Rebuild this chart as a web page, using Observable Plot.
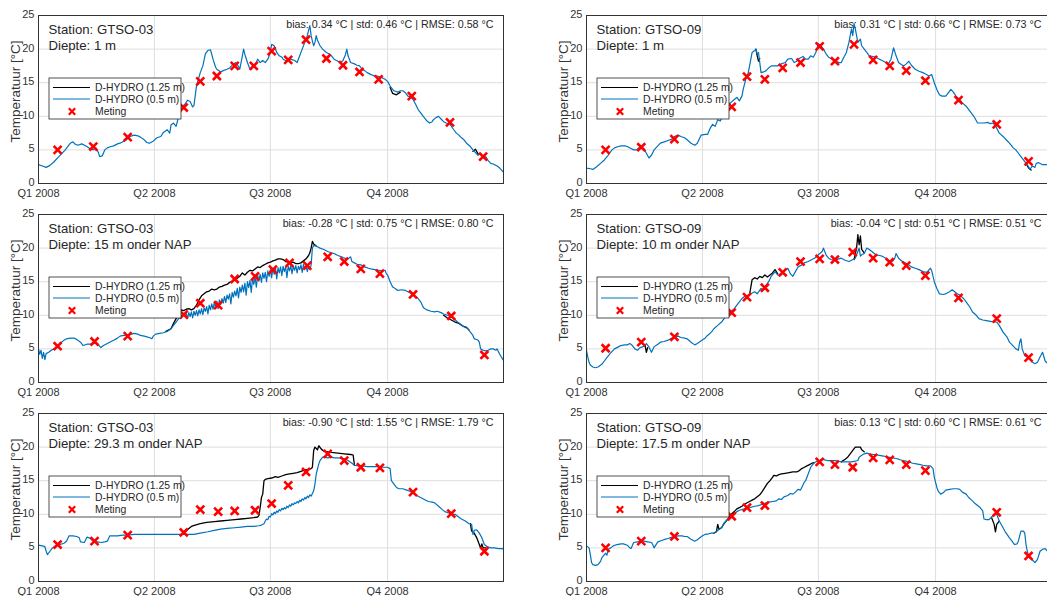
<!DOCTYPE html>
<html><head><meta charset="utf-8">
<script src="https://cdn.jsdelivr.net/npm/d3@7"></script>
<script src="https://cdn.jsdelivr.net/npm/@observablehq/plot@0.6"></script>
<style>
html,body{margin:0;padding:0;background:#fff;overflow:hidden;}
#wrap{position:relative;width:1047px;height:596px;overflow:hidden;background:#fff;}
.panel{position:absolute;width:520px;height:199px;}
.panel svg{max-width:none !important;display:block;}
</style></head><body><div id="wrap"></div>
<script>
// ---- axis ticks / labels ----
const quarterDays = [0, 91, 182, 274];
const quarterLabels = ["Q1 2008", "Q2 2008", "Q3 2008", "Q4 2008"];
const yTicks = [0, 5, 10, 15, 20, 25];
const seriesNames = ["D-HYDRO (1.25 m)", "D-HYDRO (0.5 m)", "Meting"];
const yLabel = "Temperatuur [°C]";

// ---- panel titles ----
const stations = ["GTSO-03", "GTSO-09", "GTSO-03", "GTSO-09", "GTSO-03", "GTSO-09"];
const depths = ["1 m", "1 m", "15 m onder NAP", "10 m onder NAP", "29.3 m onder NAP", "17.5 m onder NAP"];
const statsText = [
  "bias: 0.34 °C | std: 0.46 °C | RMSE: 0.58 °C",
  "bias: 0.31 °C | std: 0.66 °C | RMSE: 0.73 °C",
  "bias: -0.28 °C | std: 0.75 °C | RMSE: 0.80 °C",
  "bias: -0.04 °C | std: 0.51 °C | RMSE: 0.51 °C",
  "bias: -0.90 °C | std: 1.55 °C | RMSE: 1.79 °C",
  "bias: 0.13 °C | std: 0.60 °C | RMSE: 0.61 °C"
];

// ---- series: [day of 2008, °C] ----
// Panel 1: GTSO-03, 1 m
const blue1 = [[0,2.8],[3,2.6],[6,2.4],[9,2.7],[12,3.2],[16,4.0],[19,4.6],[21,5.0],[25,6.0],[27,6.2],[29,5.8],[31,5.7],[34,5.9],[38,5.5],[41,5.1],[43,5.0],[45,5.3],[47,4.6],[48,4.0],[50,4.1],[52,5.0],[54,5.3],[57,5.5],[59,5.6],[62,5.9],[64,6.0],[67,6.3],[69,6.5],[72,7.0],[75,7.2],[78,7.1],[80,6.9],[83,6.5],[85,6.1],[87,6.0],[90,6.3],[93,6.8],[96,7.0],[98,7.6],[101,8.0],[103,7.5],[104,8.7],[106,9.0],[108,8.5],[110,10.0],[111,10.5],[113,11.5],[115,11.8],[117,12.4],[119,12.2],[121,11.4],[122,11.6],[124,14.5],[127,16.5],[129,17.5],[131,19.3],[133,19.8],[135,19.9],[137,18.5],[139,17.3],[140,17.0],[143,16.6],[145,16.8],[148,17.0],[150,17.2],[153,17.8],[155,18.0],[157,17.4],[158,17.0],[160,19.0],[161,20.0],[162,19.2],[164,18.0],[166,17.0],[168,17.5],[170,17.6],[172,18.5],[174,18.0],[176,18.3],[178,18.0],[180,18.5],[182,19.5],[183,20.7],[185,20.5],[187,19.5],[189,19.0],[191,18.8],[192,18.5],[195,18.2],[198,18.5],[201,18.3],[203,18.0],[205,19.0],[207,20.0],[209,21.0],[211,22.0],[212,22.8],[213,23.5],[214,22.0],[215,21.2],[216,20.5],[217,21.0],[218,22.0],[219,21.3],[221,20.5],[223,20.0],[226,19.5],[229,19.2],[232,18.5],[235,18.2],[237,18.0],[239,18.3],[241,19.2],[242,20.0],[243,19.0],[245,18.0],[248,17.8],[250,17.6],[252,17.5],[254,17.0],[256,16.8],[258,16.5],[261,16.2],[264,16.0],[266,16.0],[269,15.8],[272,15.5],[274,15.2],[276,14.5],[278,14.0],[279,13.8],[282,13.6],[284,13.8],[286,13.8],[288,13.5],[290,13.0],[292,12.9],[294,12.5],[296,11.8],[298,11.0],[300,10.5],[302,10.0],[305,9.3],[307,9.0],[309,9.2],[310,9.5],[312,9.8],[314,10.0],[316,9.6],[318,9.2],[320,9.0],[323,8.8],[326,8.0],[328,7.5],[330,7.2],[332,6.8],[334,6.5],[336,6.0],[339,5.5],[341,5.0],[343,4.6],[345,4.2],[347,4.5],[349,3.8],[351,4.0],[353,3.4],[355,3.0],[357,2.9],[360,2.6],[362,2.3],[365,1.7]];
const black1 = [[[276,14.3],[278,13.4],[281,13.2],[284,13.6]],[[341,4.8],[343,5.1],[345,4.4],[347,4.3]]];
const meas1 = [[15,5.0],[43,5.5],[70,6.9],[114,11.3],[127,15.2],[140,16.0],[154,17.5],[169,17.5],[183,19.7],[196,18.4],[210,21.4],[226,18.6],[239,17.6],[252,16.6],[267,15.5],[293,13.0],[323,9.1],[349,4.0]];

// Panel 2: GTSO-09, 1 m
const blue2 = [[0,2.3],[3,2.2],[5,2.1],[8,2.5],[11,3.0],[14,3.5],[17,4.2],[18,4.5],[20,5.0],[22,5.3],[25,5.5],[27,5.6],[30,5.6],[32,5.5],[35,5.2],[37,5.0],[39,5.0],[41,5.3],[43,5.4],[45,5.2],[47,4.5],[49,3.8],[51,4.2],[53,5.0],[56,5.6],[58,6.0],[61,6.2],[64,6.4],[67,6.6],[69,7.0],[72,7.2],[74,7.0],[77,6.8],[79,6.5],[82,6.0],[85,5.7],[87,6.0],[90,7.2],[93,7.3],[95,7.3],[97,8.2],[99,8.8],[101,8.5],[103,9.5],[105,9.3],[107,10.0],[109,10.8],[111,11.5],[113,12.0],[116,12.5],[118,12.8],[120,12.3],[122,13.0],[123,14.0],[125,15.5],[127,16.5],[129,18.5],[130,19.5],[132,19.8],[133,20.0],[134,19.2],[135,19.5],[136,18.0],[137,16.5],[139,16.6],[141,16.8],[143,17.2],[145,17.5],[148,17.5],[150,17.5],[153,17.8],[156,18.0],[158,18.5],[161,18.6],[163,18.0],[165,18.2],[167,18.6],[170,18.9],[172,18.5],[174,18.5],[176,19.0],[178,18.8],[180,19.5],[182,20.8],[184,20.5],[186,20.0],[188,19.3],[190,18.8],[193,18.5],[195,18.3],[198,18.0],[200,18.0],[202,18.8],[204,19.5],[206,21.0],[207,22.0],[208,23.0],[209,22.0],[210,23.8],[211,23.0],[212,22.0],[213,21.0],[215,21.5],[216,20.5],[218,20.0],[220,19.5],[222,19.0],[225,18.9],[227,18.8],[230,18.5],[232,18.3],[235,18.0],[237,17.8],[239,18.5],[241,20.2],[243,19.0],[245,18.0],[247,17.7],[249,17.5],[251,17.8],[253,18.2],[255,17.6],[258,17.0],[261,16.7],[264,16.5],[266,16.3],[269,16.0],[271,16.2],[273,15.0],[275,14.0],[277,13.2],[279,13.0],[282,13.0],[284,13.5],[286,14.0],[288,13.6],[290,13.0],[293,12.5],[295,12.0],[298,11.5],[300,11.0],[302,10.5],[304,10.0],[307,9.0],[310,9.0],[312,9.0],[315,9.1],[317,8.9],[319,9.0],[321,8.6],[324,7.5],[327,7.0],[330,6.4],[332,6.0],[335,5.3],[337,5.0],[339,4.5],[341,4.0],[343,3.5],[345,3.0],[347,2.5],[348,2.1],[350,2.6],[352,2.4],[353,3.0],[355,3.1],[358,2.8],[361,2.8],[365,2.5]];
const black2 = [[[133,20.0],[134,19.0],[135,18.2],[136,18.6]],[[345,3.0],[347,2.3],[349,2.0]]];
const meas2 = [[15,5.0],[43,5.4],[69,6.6],[114,11.4],[126,15.9],[140,15.5],[154,17.2],[168,18.0],[183,20.4],[195,18.2],[210,20.7],[225,18.4],[238,17.5],[251,16.8],[266,15.3],[292,12.4],[322,8.8],[347,3.3]];

// Panel 3: GTSO-03, 15 m onder NAP
const blue3 = [[0,5.0],[1,4.2],[2,4.8],[3,3.6],[4,4.5],[5,3.4],[6,4.3],[8,4.5],[10,4.8],[12,5.0],[15,5.4],[17,5.8],[20,6.3],[22,6.5],[25,6.6],[28,6.6],[30,6.4],[33,6.0],[35,5.5],[38,5.7],[41,5.7],[44,5.8],[46,5.8],[49,5.2],[51,5.5],[54,5.8],[57,6.1],[59,6.3],[62,6.6],[64,6.9],[67,7.0],[70,7.0],[73,7.2],[75,7.3],[78,7.2],[80,7.0],[83,6.9],[85,6.8],[87,6.7],[89,6.5],[90,6.9],[92,7.2],[95,7.3],[98,7.4],[101,7.6],[104,8.0],[106,8.5],[108,9.0],[110,9.5],[112,10.0],[114,10.1],
[116,10.3],[117,9.5],[118,10.4],[119,9.8],[120,10.5],[121,9.6],[122,10.6],[123,10.0],[124,10.7],[125,9.9],[126,10.8],[127,10.2],[128,11.0],[129,10.1],[130,11.1],[131,10.6],[132,11.3],[133,10.2],[134,11.5],[135,10.8],[136,11.7],[137,10.9],[138,11.9],[139,11.2],[140,12.1],[141,11.0],[142,12.3],[143,11.6],[144,12.5],[145,11.8],[146,12.8],[147,11.9],[148,13.0],[149,12.4],[150,13.2],[151,11.7],[152,13.4],[153,12.7],[154,13.6],[155,12.9],[156,14.0],[157,12.6],[158,14.2],[159,13.4],[160,14.5],[161,13.5],[162,14.8],[163,13.0],[164,15.0],[165,14.1],[166,15.2],[167,13.4],[168,15.5],[169,14.6],[170,15.7],[171,14.2],[172,16.0],[173,15.1],[174,16.1],[175,14.9],[176,16.3],[177,15.5],[178,16.4],[179,15.0],[180,16.6],[181,15.8],[182,16.8],[183,15.6],[184,17.0],[185,16.1],[186,17.1],[187,15.4],[188,17.1],[189,16.3],[190,17.2],[191,15.9],[192,17.3],[193,16.5],[194,17.2],[195,15.6],[196,17.3],[197,16.6],[198,17.4],[199,16.2],[200,17.3],[201,16.7],[202,17.4],[203,16.3],[204,17.3],[205,16.8],[206,17.5],[207,16.4],[208,17.6],[209,16.9],[210,17.4],[211,16.5],[212,17.3],[213,16.8],[214,17.5],
[215,20.0],[216,20.4],[218,20.3],[219,20.2],[221,20.0],[224,19.8],[227,19.5],[230,19.3],[232,19.2],[235,18.9],[238,18.7],[240,18.5],[243,18.4],[245,18.7],[246,18.0],[248,17.8],[250,17.6],[253,17.5],[256,17.2],[259,17.0],[261,16.9],[264,16.8],[267,16.7],[270,16.6],[272,16.7],[273,16.2],[274,16.0],[276,15.0],[278,14.2],[280,14.0],[282,13.7],[285,13.8],[288,13.7],[290,13.5],[293,13.2],[296,12.8],[298,12.5],[300,12.0],[302,11.2],[303,11.0],[305,10.8],[308,10.6],[311,10.5],[313,10.6],[316,10.4],[318,10.2],[321,10.0],[324,9.8],[326,9.5],[329,9.0],[331,8.7],[334,8.3],[337,8.0],[339,7.5],[341,7.0],[342,6.5],[344,6.4],[345,6.3],[346,6.0],[347,5.0],[349,4.8],[351,4.7],[353,4.8],[355,5.0],[357,5.0],[359,4.8],[360,5.0],[362,4.2],[364,3.6],[366,3.0]];
const black3 = [[[100,7.6],[104,8.0],[106,8.8],[108,9.5],[110,10.2],[112,10.8],[114,10.7],[116,10.9],[118,11.0],[120,10.8],[122,11.0],[124,11.5],[126,12.3],[128,12.9],[130,13.2],[132,13.5],[134,13.6],[136,13.9],[138,13.8],[140,13.9],[142,14.2],[144,14.3],[146,14.5],[148,14.6],[150,14.9],[152,15.0],[154,15.3],[156,15.5],[158,15.8],[160,16.3],[162,16.0],[164,16.4],[166,16.7],[168,16.6],[170,16.9],[172,17.2],[174,17.1],[176,17.4],[178,17.6],[180,17.8],[182,17.9],[184,18.1],[186,18.2],[188,18.4],[190,18.4],[192,18.3],[194,18.0],[196,17.9],[198,17.8],[200,17.9],[202,17.7],[204,17.7],[206,17.8],[208,18.1],[210,18.4],[212,18.9],[213,19.3],[214,20.0],[215,21.0],[216,20.6],[218,20.3]],[[318,10.0],[321,9.6],[324,9.3],[327,9.0],[330,8.8],[333,8.4],[336,8.2],[338,7.8]]];
const meas3 = [[15,5.4],[44,6.1],[70,6.9],[114,10.1],[127,11.8],[141,11.5],[154,15.4],[170,15.8],[184,16.8],[197,17.8],[211,17.4],[227,18.7],[240,18.0],[253,16.9],[268,16.2],[294,13.1],[324,9.9],[350,4.1]];

// Panel 4: GTSO-09, 10 m onder NAP
const blue4 = [[0,4.8],[1,3.8],[2,3.0],[3,2.6],[5,2.3],[7,2.2],[9,2.3],[12,2.7],[14,3.2],[16,3.7],[19,4.4],[22,5.0],[25,5.3],[27,5.5],[30,5.6],[32,5.6],[34,5.8],[36,5.5],[38,5.0],[40,4.8],[42,5.2],[44,5.3],[46,5.5],[47,5.8],[49,5.3],[51,4.5],[53,5.3],[56,5.7],[58,6.0],[61,6.1],[64,6.3],[67,6.6],[69,6.8],[72,6.9],[74,6.7],[77,6.6],[79,6.5],[82,6.0],[85,5.6],[87,5.8],[90,6.2],[93,6.6],[95,7.0],[98,7.5],[100,8.0],[103,8.5],[106,9.0],[108,9.5],[111,10.0],[113,10.5],[116,11.0],[118,11.5],[120,12.0],[122,12.5],[124,12.8],[127,13.0],[129,13.2],[132,13.5],[134,13.2],[137,14.0],[139,13.8],[141,14.5],[143,15.0],[145,15.8],[148,16.5],[150,16.0],[153,16.0],[155,16.6],[158,17.0],[160,16.2],[162,15.8],[164,16.5],[166,17.2],[169,17.5],[171,17.8],[174,18.0],[177,18.3],[179,18.5],[182,19.0],[185,19.5],[186,20.0],[188,19.0],[190,18.5],[192,18.3],[195,18.2],[198,18.4],[200,18.5],[203,18.2],[206,18.0],[208,18.2],[211,18.5],[212,19.0],[213,19.5],[214,20.0],[215,18.8],[216,19.0],[218,19.2],[220,20.0],[222,19.8],[224,19.5],[227,19.0],[230,18.9],[232,18.8],[235,18.5],[237,18.2],[240,18.0],[242,18.5],[243,19.2],[245,18.5],[248,18.0],[250,17.8],[253,17.5],[255,17.2],[258,17.0],[261,16.8],[264,16.5],[267,16.4],[270,17.0],[271,16.6],[273,15.0],[275,14.0],[277,13.2],[280,13.1],[282,13.2],[285,13.5],[287,13.8],[289,13.5],[291,13.2],[293,13.0],[296,12.5],[298,12.0],[301,11.2],[303,10.5],[306,10.0],[308,9.5],[311,9.3],[314,9.2],[317,9.1],[320,9.0],[322,9.0],[324,8.5],[327,7.5],[330,6.8],[332,6.0],[335,5.4],[337,5.0],[339,4.8],[340,6.0],[341,6.5],[342,5.0],[344,4.0],[346,3.8],[348,3.5],[350,3.0],[352,2.8],[354,3.0],[356,3.8],[358,4.5],[360,3.2],[362,2.8],[365,2.5]];
const black4 = [[[46,5.5],[47,4.5],[48,5.2]],[[128,13.1],[130,15.3],[132,15.6],[134,15.4],[136,15.8],[138,15.6],[140,16.0],[142,15.7],[144,16.0],[146,16.3],[148,16.8],[150,16.2]],[[210,18.3],[212,20.0],[213,22.0],[214,20.5],[215,21.8],[216,19.8],[218,19.3]]];
const meas4 = [[15,5.1],[43,6.0],[69,6.8],[114,10.4],[126,12.7],[140,14.1],[154,16.4],[168,18.0],[183,18.4],[195,18.3],[209,19.4],[225,18.5],[238,17.9],[251,17.4],[266,15.9],[292,12.6],[322,9.5],[347,3.7]];

// Panel 5: GTSO-03, 29.3 m onder NAP
const blue5 = [[0,5.4],[3,5.3],[5,5.2],[6,4.5],[7,4.0],[9,4.5],[11,5.0],[14,5.4],[17,5.5],[20,5.7],[22,6.0],[24,6.8],[27,6.8],[30,6.7],[32,6.5],[33,5.9],[36,5.8],[38,6.6],[40,6.5],[43,6.0],[46,5.9],[49,5.8],[52,5.9],[54,6.0],[56,6.8],[59,6.8],[62,6.8],[66,6.9],[70,6.9],[75,7.0],[80,7.0],[85,7.0],[91,7.0],[96,7.0],[101,7.0],[106,7.0],[112,7.0],[117,7.0],[122,7.0],[127,7.2],[133,7.4],[138,7.6],[143,7.8],[148,7.9],[154,8.0],[159,8.1],[164,8.2],[169,8.2],[173,8.3],[175,8.4],[177,8.6],
[178,9.0],[179,9.3],[180,9.2],[181,9.7],[182,9.6],[183,10.1],[184,9.9],[185,10.3],[186,10.1],[187,10.5],[188,10.3],[189,10.7],[190,10.5],[191,10.9],[192,10.7],[193,11.0],[194,10.8],[195,11.2],[196,11.0],[197,11.4],[198,11.2],[199,11.6],[200,11.4],[201,11.7],[202,11.6],[203,11.9],[204,11.7],[205,12.1],[206,11.9],[207,12.3],[208,12.1],[209,12.5],[210,12.3],[211,12.7],[212,12.5],[213,12.9],[214,12.7],
[216,13.5],[217,14.5],[218,16.0],[220,17.5],[221,18.0],[223,18.5],[225,18.5],[227,18.4],[230,18.5],[232,18.4],[235,18.4],[238,18.3],[240,18.3],[243,18.0],[246,17.6],[248,17.3],[251,17.2],[254,17.2],[258,17.1],[262,17.1],[266,17.1],[270,17.0],[274,17.0],[276,16.8],[277,15.0],[279,14.5],[281,14.0],[283,13.8],[286,13.8],[289,13.6],[292,13.4],[295,13.0],[298,12.7],[301,12.4],[304,12.1],[306,11.9],[309,11.8],[311,11.7],[314,11.2],[317,10.7],[319,10.4],[322,10.2],[324,10.0],[327,10.0],[329,9.7],[332,9.3],[335,9.0],[338,8.6],[340,8.5],[341,7.0],[342,7.6],[344,7.7],[346,7.2],[348,6.5],[349,6.0],[350,5.5],[352,5.2],[355,5.0],[358,5.0],[361,4.9],[364,4.9],[365,4.8],[366,3.0]];
const black5 = [[[112,7.0],[114,7.1],[116,7.5],[118,7.9],[120,8.2],[123,8.4],[127,8.6],[132,8.8],[138,8.9],[143,9.0],[148,9.1],[154,9.2],[159,9.3],[164,9.4],[169,9.5],[172,9.6],[173,9.8],[174,11.0],[175,12.5],[176,13.0],[177,15.0],[178,15.2],[180,15.3],[183,15.4],[186,15.6],[188,15.5],[191,15.7],[194,15.9],[197,16.0],[200,16.1],[203,16.2],[206,16.4],[209,16.6],[212,16.7],[214,16.8],[215,17.0],[216,19.5],[217,20.0],[219,19.6],[220,20.2],[222,19.7],[224,19.4],[227,19.3],[230,19.2],[235,19.1],[240,19.0],[245,18.9],[247,18.8],[248,17.3]],[[339,8.6],[340,7.5],[342,7.2],[344,6.5],[346,5.5],[347,5.0],[348,5.6],[349,5.0],[351,5.0]]];
const meas5 = [[15,5.5],[44,6.0],[70,6.9],[114,7.3],[127,10.7],[141,10.4],[154,10.5],[170,10.6],[183,11.6],[196,14.3],[210,16.3],[227,19.0],[240,18.0],[253,17.0],[268,16.9],[294,13.3],[324,10.1],[350,4.5]];

// Panel 6: GTSO-09, 17.5 m onder NAP
const blue6 = [[0,5.3],[2,5.0],[3,4.0],[4,2.8],[5,2.5],[7,2.4],[9,2.5],[11,3.0],[12,3.5],[14,4.0],[15,4.2],[16,3.9],[17,4.8],[19,5.0],[21,5.3],[24,5.5],[27,5.6],[29,5.6],[32,5.4],[34,5.0],[35,4.9],[37,5.8],[40,5.9],[43,6.0],[45,6.0],[48,5.9],[51,5.8],[52,5.5],[53,5.0],[55,5.6],[56,5.9],[59,6.1],[62,6.3],[64,6.4],[67,6.6],[70,6.7],[72,6.8],[75,6.8],[77,6.7],[79,6.7],[82,6.3],[85,6.0],[87,6.2],[89,6.5],[91,6.8],[93,7.0],[96,7.1],[98,7.2],[100,7.2],[103,7.6],[106,8.0],[108,8.7],[111,9.3],[113,9.7],[116,10.0],[118,10.4],[120,10.6],[122,10.7],[125,10.9],[128,11.0],[132,11.2],[135,11.3],[138,11.5],[141,11.7],[143,11.8],[146,11.9],[149,12.0],[151,12.3],[153,12.2],[155,12.6],[158,12.8],[160,13.1],[162,13.0],[164,13.3],[166,13.7],[168,13.6],[169,14.0],[171,14.8],[172,15.0],[174,16.0],[176,17.0],[178,17.5],[179,17.7],[181,17.9],[183,18.0],[185,18.2],[187,18.1],[189,18.0],[192,18.0],[195,18.0],[198,17.9],[200,17.8],[203,17.8],[206,17.8],[208,17.8],[211,17.9],[213,18.0],[214,18.5],[216,18.8],[218,19.0],[220,19.1],[222,19.0],[225,18.9],[227,18.9],[229,18.8],[232,18.7],[235,18.6],[237,18.5],[240,18.4],[243,18.3],[245,18.2],[248,18.0],[251,17.9],[253,17.8],[256,17.6],[259,17.5],[262,17.4],[264,17.3],[267,17.2],[270,17.2],[272,16.8],[273,15.5],[275,14.0],[276,13.5],[278,13.0],[280,13.2],[282,13.6],[285,13.7],[288,13.8],[291,13.8],[293,13.7],[295,13.3],[298,13.0],[300,12.5],[303,12.0],[305,11.6],[307,11.3],[309,11.0],[311,10.5],[312,9.3],[314,9.2],[316,9.2],[318,9.6],[320,10.0],[322,10.0],[324,9.0],[327,8.0],[329,7.3],[332,6.5],[334,6.0],[336,5.5],[338,5.6],[339,6.0],[340,6.8],[341,7.5],[343,7.5],[344,7.2],[345,5.5],[346,4.5],[347,3.8],[348,3.5],[350,3.2],[352,2.8],[354,3.3],[356,4.5],[358,4.8],[360,4.9],[362,4.5],[365,4.0]];
const black6 = [[[100,7.2],[102,7.4],[103,8.5],[104,7.8],[106,8.0],[108,8.6],[111,9.3],[113,9.9],[116,10.4],[118,10.8],[120,11.0],[122,11.2],[125,11.6],[128,11.9],[130,12.1],[132,12.3],[134,12.6],[136,12.9],[138,13.4],[140,14.0],[142,14.6],[144,15.0],[146,15.5],[147,15.8],[149,15.7],[151,15.9],[153,16.0],[156,16.1],[159,16.2],[162,16.3],[165,16.3],[167,16.5],[169,16.8],[171,17.0],[173,17.2],[175,17.4],[177,17.6],[179,17.7]],[[200,17.8],[203,18.2],[205,18.5],[207,19.0],[209,19.5],[211,20.0],[213,20.0],[215,20.0],[216,19.6],[218,19.3]],[[318,9.5],[320,8.5],[321,7.4],[322,8.5],[324,9.0]]];
const meas6 = [[15,5.0],[43,6.0],[69,6.7],[114,9.7],[126,11.0],[140,11.3],[183,17.8],[195,17.4],[209,17.0],[225,18.4],[238,18.1],[251,17.4],[266,16.5],[322,10.3],[347,3.8]];

const blues = [blue1, blue2, blue3, blue4, blue5, blue6];
const blacks = [black1, black2, black3, black4, black5, black6];
const metingen = [meas1, meas2, meas3, meas4, meas5, meas6];

// ---- rendering ----
const dayToDate = d => new Date(Date.UTC(2008, 0, 1) + d * 864e5);
const tickDates = quarterDays.map(dayToDate);
const tickLabelOf = new Map(tickDates.map((d, i) => [+d, quarterLabels[i]]));
const FONT = "'Liberation Sans', Arial, Helvetica, sans-serif";
const BLUE = "#0072BD";

function legendMark(index, scales, values, dims) {
  const g = d3.create("svg:g").attr("font-family", FONT).attr("font-size", 10.4)
    .attr("fill", "#262626").attr("text-anchor", "start");
  const x0 = dims.marginLeft + 11, y0 = dims.marginTop + 63;
  g.append("rect").attr("x", x0).attr("y", y0).attr("width", 132).attr("height", 41)
    .attr("fill", "white").attr("stroke", "#262626").attr("stroke-width", 0.8);
  const rows = [9.5, 21, 33.5];
  const colors = ["#000", BLUE];
  rows.forEach((ry, i) => {
    const y = y0 + ry;
    if (i < 2) {
      g.append("line").attr("x1", x0 + 4).attr("x2", x0 + 41).attr("y1", y).attr("y2", y)
        .attr("stroke", colors[i]).attr("stroke-width", 1);
    } else {
      const cx = x0 + 23, s = 3.2;
      g.append("path").attr("d", `M${cx - s},${y - s}L${cx + s},${y + s}M${cx - s},${y + s}L${cx + s},${y - s}`)
        .attr("stroke", "#ff0000").attr("stroke-width", 2.2).attr("fill", "none");
    }
    g.append("text").attr("x", x0 + 46).attr("y", y).attr("dy", "0.35em").attr("text-anchor", "start").text(seriesNames[i]);
  });
  return g.node();
}

function chart(i) {
  return Plot.plot({
    width: 520, height: 199,
    marginTop: 15, marginBottom: 16, marginLeft: 38, marginRight: 17,
    style: {fontFamily: FONT, fontSize: "11px", color: "#333", background: "transparent", overflow: "visible", maxWidth: "none"},
    x: {type: "utc", domain: [dayToDate(0), dayToDate(365)]},
    y: {domain: [0, 25]},
    marks: [
      Plot.gridX(tickDates, {stroke: "#dedede", strokeOpacity: 1}),
      Plot.gridY(yTicks, {stroke: "#dedede", strokeOpacity: 1}),
      Plot.axisX(tickDates, {tickSize: 0, tickPadding: 6, tickFormat: d => tickLabelOf.get(+d), label: null}),
      Plot.axisY(yTicks, {tickSize: 0, tickPadding: 4, dy: -1, label: null}),
      Plot.text([`Station: ${stations[i]}\nDiepte: ${depths[i]}`], {frameAnchor: "top-left", textAnchor: "start", lineAnchor: "top", dx: 10, dy: 6.5, fontSize: 13.2, lineHeight: 1.26, fill: "#262626"}),
      Plot.text([statsText[i]], {frameAnchor: "top-right", textAnchor: "end", lineAnchor: "top", dx: -10, dy: 5, fontSize: 10.7, fill: "#262626"}),
      Plot.text([yLabel], {frameAnchor: "left", textAnchor: "middle", lineAnchor: "middle", rotate: -90, dx: -23, dy: -8, fontSize: 13.5, fill: "#333"}),
      ...blacks[i].map(seg => Plot.line(seg, {x: d => dayToDate(d[0]), y: d => d[1], stroke: "#000", strokeWidth: 1.3, clip: true})),
      Plot.line(blues[i], {x: d => dayToDate(d[0]), y: d => d[1], stroke: BLUE, strokeWidth: 1.2, clip: true}),
      Plot.dot(metingen[i], {x: d => dayToDate(d[0]), y: d => d[1], symbol: "times", r: 3.7, stroke: "#ff0000", strokeWidth: 2.6}),
      Plot.frame({stroke: "#333"}),
      legendMark
    ]
  });
}

const wrap = document.getElementById("wrap");
const lefts = [0, 548];
const tops = [0, 199, 398];
for (let i = 0; i < 6; i++) {
  const div = document.createElement("div");
  div.className = "panel";
  div.style.left = lefts[i % 2] + "px";
  div.style.top = tops[Math.floor(i / 2)] + "px";
  div.appendChild(chart(i));
  wrap.appendChild(div);
}
</script>
</body></html>
